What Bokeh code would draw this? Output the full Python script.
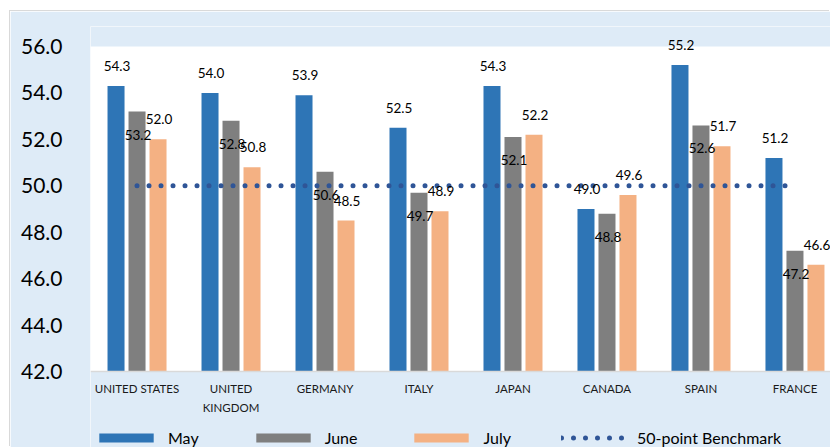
from bokeh.plotting import figure
from bokeh.models import (ColumnDataSource, FixedTicker, PrintfTickFormatter, Legend, LegendItem,
                          Range1d, BoxAnnotation, Span)
from bokeh.transform import dodge
from bokeh.core.properties import value
from bokeh.embed import file_html
from bokeh.resources import INLINE

# PMI readings by country for three months, with the 50-point line
countries = ["UNITED STATES", "UNITED\nKINGDOM", "GERMANY", "ITALY", "JAPAN", "CANADA", "SPAIN", "FRANCE"]
may = [54.3, 54.0, 53.9, 52.5, 54.3, 49.0, 55.2, 51.2]
june = [53.2, 52.8, 50.6, 49.7, 52.1, 48.8, 52.6, 47.2]
july = [52.0, 50.8, 48.5, 48.9, 52.2, 49.6, 51.7, 46.6]
benchmark = [50.0, 50.0, 50.0, 50.0, 50.0, 50.0, 50.0, 50.0]
y_ticks = [42.0, 44.0, 46.0, 48.0, 50.0, 52.0, 54.0, 56.0]
y_floor = 42.0
y_ceiling = 56.0

FONT = "Lato"
BG = "#DEEBF7"
BLUE = "#2E75B6"
GRAY = "#7F7F7F"
PEACH = "#F4B183"
DOTS = "#2F5597"

idx = list(range(len(countries)))
src = ColumnDataSource(dict(
    x=idx, may=may, june=june, july=july, bench=benchmark,
    floor=[y_floor] * len(countries), name=countries,
    may_lbl=[f"{v:.1f}" for v in may],
    june_lbl=[f"{v:.1f}" for v in june],
    july_lbl=[f"{v:.1f}" for v in july],
))

# The frame runs from a little above 56 down to the bottom edge, so the value
# labels, country names and legend all sit inside it; the strips outside the
# 42-56 band are painted in the surround colour.
p = figure(width=820, height=436,
           x_range=Range1d(-0.495, 7.378), y_range=Range1d(38.726, 56.8616),
           output_backend="svg", toolbar_location=None,
           min_border_left=80, min_border_top=15, min_border_bottom=0, min_border_right=0,
           border_fill_color=BG, background_fill_color="white", outline_line_color=None,
           margin=(11, 0, 0, 10))
p.styles = {"box-shadow": "-1px -1px 0 0 #D9D9D9"}
p.add_layout(BoxAnnotation(bottom=y_ceiling, fill_color=BG, fill_alpha=1, line_color=None, level="underlay"))
p.add_layout(BoxAnnotation(top=y_floor, fill_color=BG, fill_alpha=1, line_color=None, level="underlay"))
p.add_layout(Span(location=y_floor, dimension="width", line_color="#D9D9D9", line_width=1.5))

p.xgrid.visible = False
p.ygrid.visible = False
p.xaxis.visible = False

# value axis
p.yaxis.ticker = FixedTicker(ticks=y_ticks)
p.yaxis.formatter = PrintfTickFormatter(format="%.1f")
p.yaxis.major_label_text_font = FONT
p.yaxis.major_label_text_font_size = "21px"
p.yaxis.major_label_text_color = "black"
p.yaxis.axis_line_color = None
p.yaxis.major_tick_line_color = None
p.yaxis.minor_tick_line_color = None
p.yaxis.major_tick_out = 0
p.yaxis.major_tick_in = 0
p.yaxis.major_label_standoff = 28

OFF = 0.2234
W = 0.181

r_may = p.vbar(x=dodge("x", -OFF), top="may", bottom=y_floor, width=W, source=src,
               fill_color=BLUE, line_color=None)
r_june = p.vbar(x="x", top="june", bottom=y_floor, width=W, source=src,
                fill_color=GRAY, line_color=None)
r_july = p.vbar(x=dodge("x", OFF), top="july", bottom=y_floor, width=W, source=src,
                fill_color=PEACH, line_color=None)
r_bench = p.line(x="x", y="bench", source=src, line_color=DOTS, line_width=5,
                 line_dash="0 12", line_cap="round")

# value labels
label_style = dict(source=src, text_align="center", text_baseline="middle",
                   text_font=value(FONT), text_font_size="13.5px", text_color="black", x_offset=1)
p.text(x=dodge("x", -OFF), y="may", text="may_lbl", y_offset=-20, **label_style)
p.text(x="x", y="june", text="june_lbl", y_offset=23, **label_style)
p.text(x=dodge("x", OFF), y="july", text="july_lbl", y_offset=-20, **label_style)

# country names under the baseline
p.text(x="x", y="floor", text="name", source=src, text_align="center", text_baseline="top",
       y_offset=11, text_line_height=1.45, text_font=value(FONT), text_font_size="11.5px",
       text_color="#1a1a1a")

legend = Legend(items=[
    LegendItem(label="May", renderers=[r_may]),
    LegendItem(label="June", renderers=[r_june]),
    LegendItem(label="July", renderers=[r_july]),
    LegendItem(label="50-point Benchmark", renderers=[r_bench]),
], orientation="horizontal", location=(2, 0), padding=0, margin=0, spacing=50,
    glyph_width=68, glyph_height=11, label_standoff=8, label_width=20,
    label_text_font=FONT, label_text_font_size="16px", label_text_color="black",
    background_fill_alpha=0, border_line_color=None)
p.add_layout(legend)

open("out.html", "w").write(file_html(p, INLINE))
